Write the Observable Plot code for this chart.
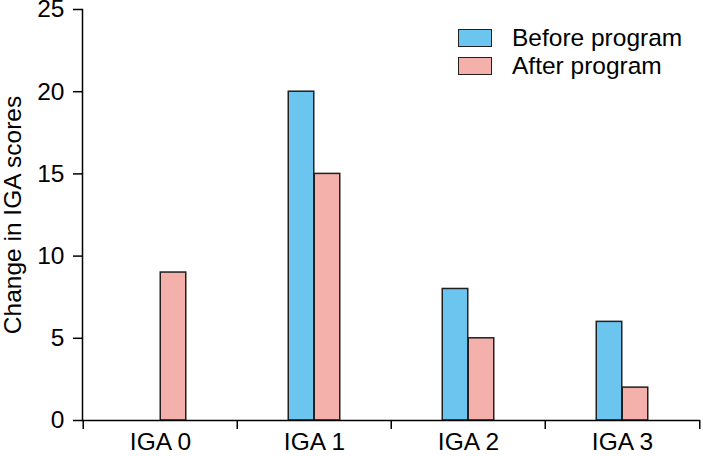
<!DOCTYPE html>
<html>
<head>
<meta charset="utf-8">
<script src="https://cdn.jsdelivr.net/npm/d3@7"></script>
<script src="https://cdn.jsdelivr.net/npm/@observablehq/plot@0.6"></script>
<style>
  html, body { margin: 0; padding: 0; background: #fff; }
  #wrap { position: relative; width: 703px; height: 456px; font-family: "Liberation Sans", Arial, sans-serif; color: #000; }
  .legend { position: absolute; left: 458px; top: 24px; font-size: 24.5px; line-height: 1; }
  .legend .row { display: flex; align-items: center; height: 28px; }
  .legend .sw { box-sizing: border-box; width: 34px; height: 18px; border: 1.5px solid #231f20; margin-right: 20px; }
</style>
</head>
<body>
<div id="wrap"></div>
<script>
// ---- data ----
const categories = ["IGA 0", "IGA 1", "IGA 2", "IGA 3"];
const seriesNames = ["Before program", "After program"];
const beforeValues = [0, 20, 8, 6];
const afterValues = [9, 15, 5, 2];
const seriesColors = ["#6cc5ee", "#f4b1ac"];
const yTicks = [0, 5, 10, 15, 20, 25];
const yLabel = "Change in IGA scores";

// ---- layout ----
const W = 703, H = 456;
const ML = 82, MR = 3, MT = 9, MB = 36;
const step = (W - ML - MR) / categories.length;
const half = step / 2;
const barW = 26;

const beforeData = categories.map((c, i) => ({cat: c, value: beforeValues[i]})).filter(d => d.value > 0);
const afterData = categories.map((c, i) => ({cat: c, value: afterValues[i]})).filter(d => d.value > 0);

const chart = Plot.plot({
  width: W,
  height: H,
  marginLeft: ML,
  marginRight: MR,
  marginTop: MT,
  marginBottom: MB,
  style: {fontFamily: "Liberation Sans, Arial, sans-serif", fontSize: "24.5px", color: "#000", background: "#fff"},
  x: {domain: categories, padding: 0},
  y: {domain: [0, 25]},
  marks: [
    Plot.barY(beforeData, {x: "cat", y: "value", fill: seriesColors[0], stroke: "#231f20", strokeWidth: 1.5,
      insetLeft: half - barW, insetRight: half}),
    Plot.barY(afterData, {x: "cat", y: "value", fill: seriesColors[1], stroke: "#231f20", strokeWidth: 1.5,
      insetLeft: half, insetRight: half - barW}),
    Plot.ruleY([0], {stroke: "#000", strokeWidth: 1.5}),
    Plot.frame({anchor: "left", stroke: "#000", strokeWidth: 1.5}),
    Plot.ruleX(categories, {x: d => d, y1: 0, y2: 0, dx: -half, insetBottom: -9, stroke: "#000", strokeWidth: 1.5}),
    Plot.ruleX(categories.slice(-1), {x: d => d, y1: 0, y2: 0, dx: half, insetBottom: -9, stroke: "#000", strokeWidth: 1.5}),
    Plot.axisY({ticks: yTicks, tickSize: 9, tickPadding: 9, fontSize: 24.5, strokeWidth: 1.5,
      label: yLabel, labelAnchor: "center", labelArrow: "none", labelOffset: 79}),
    Plot.axisX({tickSize: 0, tickPadding: 12, fontSize: 24.5, label: null})
  ]
});

const wrap = document.getElementById("wrap");
wrap.appendChild(chart);

const legend = document.createElement("div");
legend.className = "legend";
seriesNames.forEach((name, i) => {
  const row = document.createElement("div");
  row.className = "row";
  const sw = document.createElement("span");
  sw.className = "sw";
  sw.style.background = seriesColors[i];
  const lab = document.createElement("span");
  lab.textContent = name;
  row.appendChild(sw);
  row.appendChild(lab);
  legend.appendChild(row);
});
wrap.appendChild(legend);
</script>
</body>
</html>
